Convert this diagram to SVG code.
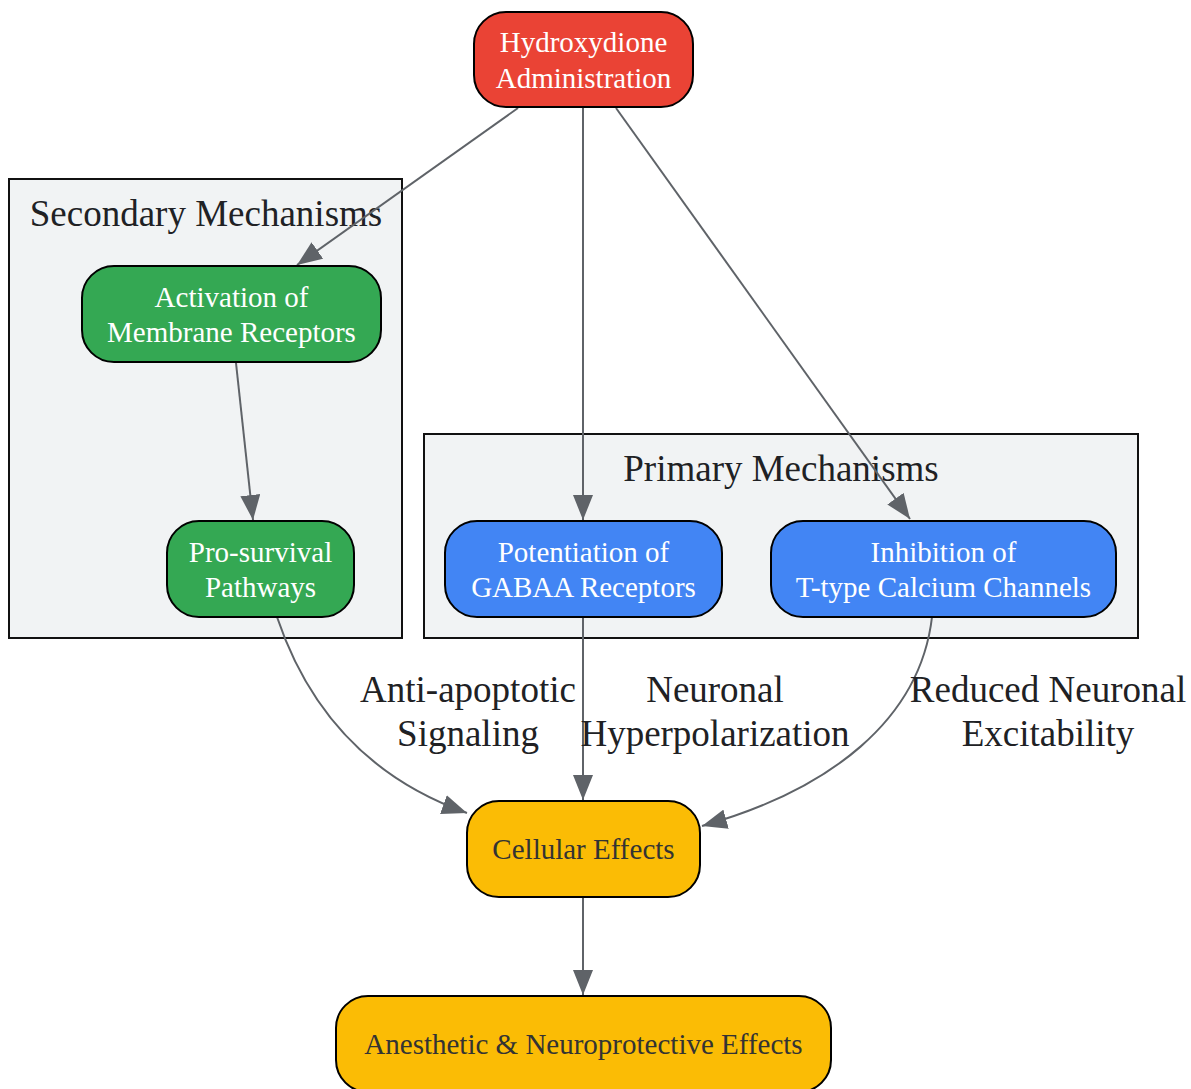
<svg xmlns="http://www.w3.org/2000/svg" width="1191" height="1089" viewBox="0 0 1191 1089">
<defs>
<style>
.cluster{fill:#F1F3F4;stroke:#111;stroke-width:2}
.clabel{font-family:"Liberation Serif",serif;font-size:37px;fill:#202124;text-anchor:middle}
.node rect{stroke:#000;stroke-width:2}
.ntext{font-family:"Liberation Serif",serif;font-size:29px;text-anchor:middle;fill:#fff}
.dark{fill:#333}
.edge{fill:none;stroke:#5f6368;stroke-width:2;marker-end:url(#arr)}
.elabel{font-family:"Liberation Serif",serif;font-size:37px;fill:#202124;text-anchor:middle}
</style>
<marker id="arr" viewBox="0 0 25 20" refX="25" refY="10" markerWidth="25" markerHeight="20" markerUnits="userSpaceOnUse" orient="auto">
<path d="M0,0 L25,10 L0,20 z" fill="#5f6368"/>
</marker>
</defs>
<rect width="1191" height="1089" fill="#fff"/>
<g id="cluster_secondary">
<rect class="cluster" x="9" y="179" width="393" height="459"/>
<text class="clabel" x="206" y="226">Secondary Mechanisms</text>
</g>
<g id="cluster_primary">
<rect class="cluster" x="424" y="434" width="714" height="204"/>
<text class="clabel" x="781" y="481">Primary Mechanisms</text>
</g>
<g id="edges">
<path class="edge" d="M518,108 L297,265"/>
<path class="edge" d="M583,108 L583,520"/>
<path class="edge" d="M616,108 L910,519"/>
<path class="edge" d="M236,363 L253,520"/>
<path class="edge" d="M277,617 C305,700 360,775 467,813"/>
<path class="edge" d="M583,617 L583,800"/>
<path class="edge" d="M932,617 C920,720 830,790 702,826"/>
<path class="edge" d="M583,897 L583,995"/>
<text class="elabel" x="468" y="702">Anti-apoptotic</text>
<text class="elabel" x="468" y="746">Signaling</text>
<text class="elabel" x="715" y="702">Neuronal</text>
<text class="elabel" x="715" y="746">Hyperpolarization</text>
<text class="elabel" x="1048" y="702">Reduced Neuronal</text>
<text class="elabel" x="1048" y="746">Excitability</text>
</g>
<g id="node_hydroxydione" class="node">
<rect x="474" y="12" width="219" height="95" rx="32" fill="#EA4335"/>
<text class="ntext" x="583.5" y="52">Hydroxydione</text>
<text class="ntext" x="583.5" y="88">Administration</text>
</g>
<g id="node_activation" class="node">
<rect x="82" y="266" width="299" height="96" rx="32" fill="#34A853"/>
<text class="ntext" x="231.5" y="307">Activation of</text>
<text class="ntext" x="231.5" y="342">Membrane Receptors</text>
</g>
<g id="node_prosurvival" class="node">
<rect x="167" y="521" width="187" height="96" rx="32" fill="#34A853"/>
<text class="ntext" x="260.5" y="562">Pro-survival</text>
<text class="ntext" x="260.5" y="597">Pathways</text>
</g>
<g id="node_gabaa" class="node">
<rect x="445" y="521" width="277" height="96" rx="32" fill="#4285F4"/>
<text class="ntext" x="583.5" y="562">Potentiation of</text>
<text class="ntext" x="583.5" y="597">GABAA Receptors</text>
</g>
<g id="node_ttype" class="node">
<rect x="771" y="521" width="345" height="96" rx="32" fill="#4285F4"/>
<text class="ntext" x="943.5" y="562">Inhibition of</text>
<text class="ntext" x="943.5" y="597">T-type Calcium Channels</text>
</g>
<g id="node_cellular" class="node">
<rect x="467" y="801" width="233" height="96" rx="32" fill="#FBBC05"/>
<text class="ntext dark" x="583.5" y="859">Cellular Effects</text>
</g>
<g id="node_effects" class="node">
<rect x="336" y="996" width="495" height="96" rx="32" fill="#FBBC05"/>
<text class="ntext dark" x="583.5" y="1054">Anesthetic &amp; Neuroprotective Effects</text>
</g>
</svg>
